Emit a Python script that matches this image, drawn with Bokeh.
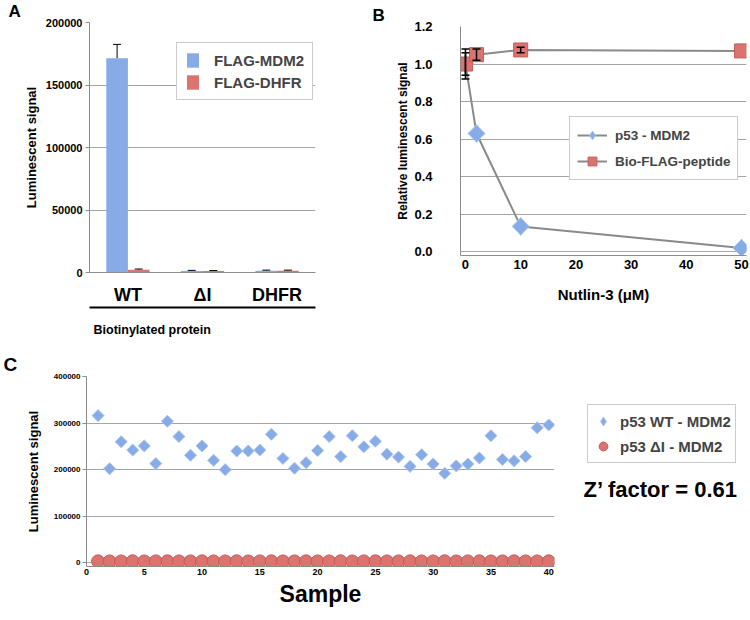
import math
from bokeh.plotting import figure
from bokeh.models import (ColumnDataSource, FactorRange, Whisker, TeeHead, Legend, LegendItem,
                          Label, LinearAxis, NumeralTickFormatter, FixedTicker, Range1d, Title)
from bokeh.transform import dodge
from bokeh.layouts import column, row
from bokeh.embed import file_html
from bokeh.resources import INLINE

FONT = "Liberation Sans"
BLUE = "#86abe7"
BLUE_EDGE = "#a8c3ef"
RED = "#d9746f"
RED_EDGE = "#c45c58"
GRID = "#a6a6a6"
AXIS = "#8c8c8c"

# ---------------- Panel A data ----------------
a_categories = ["WT", "ΔI", "DHFR"]
a_series = ["FLAG-MDM2", "FLAG-DHFR"]
a_mdm2 = [171500, 1300, 1500]
a_mdm2_err = [11000, 400, 400]
a_dhfr = [2300, 1300, 1500]
a_dhfr_err = [500, 300, 400]
a_yticks = [0, 50000, 100000, 150000, 200000]

# ---------------- Panel B data ----------------
b_nutlin = [0, 2, 10, 50]
b_p53 = [1.0, 0.63, 0.135, 0.02]
b_p53_err = [0.08, 0.0, 0.0, 0.0]
b_flag = [1.0, 1.05, 1.075, 1.07]
b_flag_err = [0.06, 0.03, 0.015, 0.0]
b_xticks = [0, 10, 20, 30, 40, 50]
b_yticks = [0.0, 0.2, 0.4, 0.6, 0.8, 1.0, 1.2]

# ---------------- Panel C data ----------------
c_sample = list(range(1, 41))
c_wt = [316000, 202000, 260000, 242000, 251000, 213000, 304000, 271000, 231000, 251000,
        220000, 200000, 240000, 240000, 242000, 276000, 224000, 203000, 215000, 241000,
        271000, 228000, 273000, 249000, 261000, 233000, 227000, 207000, 232000, 212000,
        192000, 208000, 212000, 225000, 273000, 222000, 219000, 228000, 290000, 296000]
c_di = [3100, 2900, 3000, 3200, 2800, 3000, 3100, 2900, 3000, 3100,
        2900, 3000, 3200, 2800, 3000, 3100, 2900, 3000, 3100, 2900,
        3000, 3200, 2800, 3000, 3100, 2900, 3000, 3100, 2900, 3000,
        3200, 2800, 3000, 3100, 2900, 3000, 3100, 2900, 3000, 3100]
c_xticks = [0, 5, 10, 15, 20, 25, 30, 35, 40]
c_yticks = [0, 100000, 200000, 300000, 400000]

ROT = math.pi / 4


def style_axes(p, tick_size, label_size):
    for ax in p.xaxis + p.yaxis:
        ax.axis_line_color = AXIS
        ax.major_tick_line_color = AXIS
        ax.minor_tick_line_color = None
        ax.major_tick_in = 0
        ax.major_tick_out = 4
        ax.major_label_text_font = FONT
        ax.major_label_text_font_style = "bold"
        ax.major_label_text_font_size = tick_size
        ax.major_label_text_color = "black"
        ax.axis_label_text_font = FONT
        ax.axis_label_text_font_style = "bold"
        ax.axis_label_text_font_size = label_size
        ax.axis_label_text_color = "black"
    p.outline_line_color = None
    p.xgrid.grid_line_color = None
    p.ygrid.grid_line_color = GRID
    p.ygrid.grid_line_width = 1


def panel_letter(p, offset, size="17px"):
    p.title.align = "left"
    p.title.offset = offset
    p.title.standoff = 0
    p.title.vertical_align = "top"
    p.title.text_font = FONT
    p.title.text_font_style = "bold"
    p.title.text_font_size = size
    p.title.text_color = "black"


# ================= Panel A =================
srcA = ColumnDataSource(dict(cat=a_categories, mdm2=a_mdm2, dhfr=a_dhfr,
                             mdm2_hi=[v + e for v, e in zip(a_mdm2, a_mdm2_err)],
                             dhfr_hi=[v + e for v, e in zip(a_dhfr, a_dhfr_err)]))
pA = figure(width=370, height=350, title="A",
            x_range=FactorRange(*a_categories, range_padding=0.01),
            y_range=Range1d(0, 200000), output_backend="svg", toolbar_location=None,
            min_border_left=89, min_border_right=55, min_border_top=22, min_border_bottom=78)
BW = 0.29
xb = dodge("cat", -BW / 2, range=pA.x_range)
xr = dodge("cat", BW / 2, range=pA.x_range)
barB = pA.vbar(x=xb, top="mdm2", width=BW, fill_color=BLUE, line_color=None, source=srcA)
barR = pA.vbar(x=xr, top="dhfr", width=BW, fill_color=RED, line_color=None, source=srcA)
for xx, lo, hi in ((xb, "mdm2", "mdm2_hi"), (xr, "dhfr", "dhfr_hi")):
    pA.add_layout(Whisker(base=xx, upper=hi, lower=lo, source=srcA, line_color="black",
                          line_width=1, upper_head=TeeHead(size=8, line_color="black", line_width=1),
                          lower_head=None, level="overlay"))
style_axes(pA, "11px", "13px")
pA.yaxis.axis_label = "Luminescent signal"
pA.yaxis.axis_label_standoff = 4
pA.yaxis.major_label_standoff = 3
pA.yaxis.ticker = FixedTicker(ticks=a_yticks)
pA.yaxis.formatter = NumeralTickFormatter(format="0")
pA.ygrid.ticker = FixedTicker(ticks=a_yticks)
pA.xaxis.major_tick_line_color = None
pA.xaxis.major_label_text_font_size = "18px"
pA.xaxis.major_label_standoff = 8
underline = LinearAxis(ticker=FixedTicker(ticks=[]), axis_line_color="black", axis_line_width=2,
                       major_tick_line_color=None, minor_tick_line_color=None)
pA.add_layout(underline, "below")
pA.add_layout(Title(text="Biotinylated protein", align="left", offset=4, standoff=26,
                    text_font=FONT, text_font_style="bold", text_font_size="12.5px",
                    text_color="black"), "below")
legA = Legend(items=[LegendItem(label=a_series[0], renderers=[barB]),
                     LegendItem(label=a_series[1], renderers=[barR])],
              location=(87, 172), label_text_font=FONT, label_text_font_style="bold",
              label_text_font_size="15px", border_line_color="#999999", padding=8, spacing=4,
              glyph_width=15, glyph_height=18, label_standoff=14, background_fill_alpha=1)
pA.add_layout(legA)
panel_letter(pA, -81)

# ================= Panel B =================
def err_source(xs, ys, es):
    keep = [i for i in range(len(xs)) if es[i] > 0]
    return ColumnDataSource(dict(x=[xs[i] for i in keep],
                                 lo=[ys[i] - es[i] for i in keep],
                                 hi=[ys[i] + es[i] for i in keep]))


srcP = ColumnDataSource(dict(x=b_nutlin, y=b_p53))
srcF = ColumnDataSource(dict(x=b_nutlin, y=b_flag))
pB = figure(width=380, height=350, title="B", x_range=Range1d(-0.9, 50.9),
            y_range=Range1d(-0.02, 1.2),
            output_backend="svg", toolbar_location=None,
            min_border_left=90, min_border_right=4, min_border_top=26, min_border_bottom=95)
lP = pB.line("x", "y", source=srcP, line_color="#8a8a8a", line_width=2)
dP = pB.scatter("x", "y", source=srcP, marker="diamond", size=18, fill_color=BLUE,
                line_color=BLUE_EDGE, line_width=1)
mP = pB.scatter("x", "y", source=srcP, marker="square", angle=ROT, size=12, fill_color=BLUE,
                line_color=BLUE_EDGE, line_width=1)
lF = pB.line("x", "y", source=srcF, line_color="#8a8a8a", line_width=2)
mF = pB.scatter("x", "y", source=srcF, marker="square", size=14, fill_color=RED,
                line_color=RED_EDGE, line_width=1)
for s in (err_source(b_nutlin, b_p53, b_p53_err), err_source(b_nutlin, b_flag, b_flag_err)):
    pB.add_layout(Whisker(base="x", upper="hi", lower="lo", source=s, line_color="black", line_width=1.5,
                          upper_head=TeeHead(size=8, line_color="black", line_width=1.5),
                          lower_head=TeeHead(size=8, line_color="black", line_width=1.5),
                          level="overlay"))
style_axes(pB, "13px", "12px")
pB.yaxis.axis_label = "Relative luminescent signal"
pB.yaxis.axis_label_standoff = 1
pB.yaxis.major_label_standoff = 24
pB.xaxis.axis_label = "Nutlin-3 (μM)"
pB.xaxis.axis_label_text_font_size = "15px"
pB.xaxis.axis_label_standoff = 14
pB.xaxis.major_label_standoff = 0
pB.xaxis.major_tick_line_color = None
pB.yaxis.major_tick_line_color = None
pB.xaxis.ticker = FixedTicker(ticks=b_xticks)
pB.yaxis.ticker = FixedTicker(ticks=b_yticks)
pB.ygrid.ticker = FixedTicker(ticks=b_yticks)
pB.yaxis.formatter = NumeralTickFormatter(format="0.0")
legB = Legend(items=[LegendItem(label="p53 - MDM2", renderers=[lP, dP]),
                     LegendItem(label="Bio-FLAG-peptide", renderers=[lF, mF])],
              location=(109, 75), label_text_font=FONT, label_text_font_style="bold",
              label_text_font_size="13.5px", border_line_color="#999999", padding=7, spacing=4,
              glyph_width=30, glyph_height=22, label_standoff=8, background_fill_alpha=1)
pB.add_layout(legB)
panel_letter(pB, -88)

# ================= Panel C =================
pC = figure(width=560, height=270, title="C", x_range=Range1d(0, 40.5),
            y_range=Range1d(-8000, 400000),
            output_backend="svg", toolbar_location=None,
            min_border_left=86, min_border_right=6, min_border_top=26, min_border_bottom=54)
pC.scatter(c_sample, c_wt, marker="square", angle=ROT, size=8.5, fill_color=BLUE,
           line_color=BLUE_EDGE, line_width=1)
pC.scatter(c_sample, c_di, marker="circle", size=13, fill_color=RED,
           line_color=RED_EDGE, line_width=1)
style_axes(pC, "9px", "13px")
pC.xaxis.axis_label = "Sample"
pC.xaxis.axis_label_text_font_size = "23px"
pC.xaxis.axis_label_standoff = 3
pC.xaxis.major_label_standoff = -2
pC.yaxis.axis_label = "Luminescent signal"
pC.yaxis.axis_label_standoff = 10
pC.yaxis.major_label_standoff = 2
pC.yaxis.major_label_text_font_size = "8px"
pC.xaxis.major_tick_line_color = None
pC.xaxis.ticker = FixedTicker(ticks=c_xticks)
pC.yaxis.ticker = FixedTicker(ticks=c_yticks)
pC.ygrid.ticker = FixedTicker(ticks=c_yticks)
pC.yaxis.formatter = NumeralTickFormatter(format="0")
panel_letter(pC, -83, "19px")

# side panel holding legend and Z' factor (its points lie outside its visible range)
pS = figure(width=190, height=270, x_range=Range1d(1000, 1001), y_range=Range1d(-8000, 400000),
            x_axis_type=None, y_axis_type=None, output_backend="svg", toolbar_location=None,
            min_border_left=0, min_border_right=0, min_border_top=26, min_border_bottom=54)
pS.outline_line_color = None
pS.xgrid.grid_line_color = None
pS.ygrid.grid_line_color = None
sWT = pS.scatter(c_sample, c_wt, marker="diamond", size=19, fill_color=BLUE,
                 line_color=BLUE_EDGE, line_width=1)
sDI = pS.scatter(c_sample, c_di, marker="circle", size=17, fill_color=RED,
                 line_color=RED_EDGE, line_width=1)
legC = Legend(items=[LegendItem(label="p53 WT - MDM2", renderers=[sWT]),
                     LegendItem(label="p53 ΔI - MDM2", renderers=[sDI])],
              location=(27, 103), label_text_font=FONT, label_text_font_style="bold",
              label_text_font_size="15px", border_line_color="#999999", padding=4, spacing=1,
              glyph_width=22, glyph_height=24, label_standoff=6, background_fill_alpha=1)
pS.add_layout(legC)
pS.add_layout(Label(x=23, y=77, x_units="screen", y_units="screen", text="Z’ factor = 0.61",
                    text_font=FONT, text_font_style="bold", text_font_size="22px",
                    text_baseline="alphabetic", text_color="black"))

layout = column(row(column(pA), column(pB)), row(pC, pS))
open("out.html", "w").write(file_html(layout, INLINE))
